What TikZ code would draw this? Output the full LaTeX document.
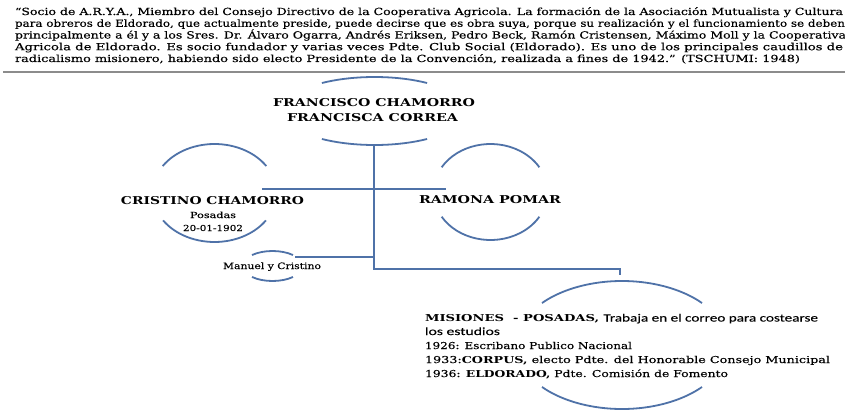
\documentclass[tikz,border=0pt]{standalone}
\usepackage{fontspec}
\setmainfont{DejaVu Serif}[UprightFeatures={FakeBold=0.25}]
\newfontfamily\calib{Carlito}[UprightFeatures={FakeBold=0.2}]
\usepackage{graphicx}
\definecolor{lineblue}{RGB}{79,114,168}
\newcommand{\fitw}[2]{\resizebox{#1}{\height}{#2}}
\newcommand{\earc}[6]{%
  \draw[ring] ([shift={(#5:#3pt and #4pt)}]#1,#2) arc[start angle=#5,end angle=#6,x radius=#3pt,y radius=#4pt];}
\begin{document}
\begin{tikzpicture}[x=1pt,y=-1pt,
  txt/.style={inner sep=0pt, outer sep=0pt, text=black},
  hdr/.style={txt, anchor=base west, font=\fontsize{9.8}{11}\selectfont},
  pname/.style={txt, anchor=base, font=\fontsize{10.8}{12}\selectfont\bfseries},
  small/.style={txt, anchor=base, font=\fontsize{8.3}{9}\selectfont},
  info/.style={txt, anchor=base west, font=\fontsize{9.5}{11}\selectfont},
  link/.style={draw=lineblue, line width=2pt},
  ring/.style={draw=lineblue, line width=1.8pt},
  sep/.style={draw=black!45, line width=1.5pt},
]
\useasboundingbox[fill=white] (0,0) rectangle (845,412);

% quotation block
\node[hdr] (q1) at (15,15)   {\fitw{828pt}{“Socio de A.R.Y.A., Miembro del Consejo Directivo de la Cooperativa Agricola. La formación de la Asociación Mutualista y Cultura}};
\node[hdr] (q2) at (15,26.8) {\fitw{830pt}{para obreros de Eldorado, que actualmente preside, puede decirse que es obra suya, porque su realización y el funcionamiento se deben}};
\node[hdr] (q3) at (15,38.5) {\fitw{831pt}{principalmente a él y a los Sres. Dr. Álvaro Ogarra, Andrés Eriksen, Pedro Beck, Ramón Cristensen, Máximo Moll y la Cooperativa}};
\node[hdr] (q4) at (15,50.2) {\fitw{828pt}{Agricola de Eldorado. Es socio fundador y varias veces Pdte. Club Social (Eldorado). Es uno de los principales caudillos de}};
\node[hdr] (q5) at (15,62)   {\fitw{785pt}{radicalismo misionero, habiendo sido electo Presidente de la Convención, realizada a fines de 1942.” (TSCHUMI: 1948)}};
\coordinate (sepL) at (3,72);
\coordinate (sepR) at (845,72);
\draw[sep] (sepL) -- (sepR);

% ellipse arcs
\earc{374.5}{111}{92.6}{34}{124.6}{55.4}
\earc{374.5}{111}{92.6}{34}{235.4}{304.6}
\earc{214.5}{193}{62}{49}{146.6}{33.4}
\earc{214.5}{193}{62}{49}{214}{326}
\earc{490.5}{192}{57}{48}{149}{31}
\earc{490.5}{192}{57}{48}{211}{329}
\earc{272.5}{266}{30}{15}{133}{47}
\earc{272.5}{266}{30}{15}{227}{313}
\earc{622}{345}{106}{64}{139}{41}
\earc{622}{345}{106}{64}{221}{319}

% names
\node[pname] (fch) at (374,106)   {\fitw{202pt}{FRANCISCO CHAMORRO}};
\node[pname] (fco) at (372.5,121) {\fitw{171pt}{FRANCISCA CORREA}};
\node[pname] (cch) at (212.5,204) {\fitw{183pt}{CRISTINO CHAMORRO}};
\node[small] (cpo) at (213,218)   {\fitw{46pt}{Posadas}};
\node[small] (cda) at (213,231)   {\fitw{60pt}{20-01-1902}};
\node[pname] (rpo) at (490,203)   {\fitw{142pt}{RAMONA POMAR}};
\node[small, font=\fontsize{8.8}{10}\selectfont] (myc) at (272,269) {\fitw{98pt}{Manuel y Cristino}};

% info block
\node[info] (i1) at (425,321.5) {\fitw{393pt}{\textbf{MISIONES \ - POSADAS,} {\calib\fontsize{11}{12}\selectfont Trabaja en el correo para costearse}}};
\node[info] (i2) at (425,335)   {\fitw{75pt}{\calib\fontsize{11}{12}\selectfont los estudios}};
\node[info] (i3) at (425,349)   {\fitw{207pt}{1926: Escribano Publico Nacional}};
\node[info] (i4) at (425,363)   {\fitw{405pt}{1933:\textbf{CORPUS,} electo Pdte. del Honorable Consejo Municipal}};
\node[info] (i5) at (425,377)   {\fitw{303pt}{1936: \textbf{ELDORADO,} Pdte. Comisión de Fomento}};

% connectors
\coordinate (fbot) at (374,145);
\coordinate (join) at (374,269);
\coordinate (hl) at (262,189);
\coordinate (hr) at (446,189);
\coordinate (mr) at (295,257);
\coordinate (mj) at (374,257);
\coordinate (mtop) at (620,275);
\draw[link] (fbot) -- (join) -- (join -| mtop) -- (mtop);
\draw[link] (hl) -- (hr);
\draw[link] (mr) -- (mj);
\end{tikzpicture}
\end{document}
